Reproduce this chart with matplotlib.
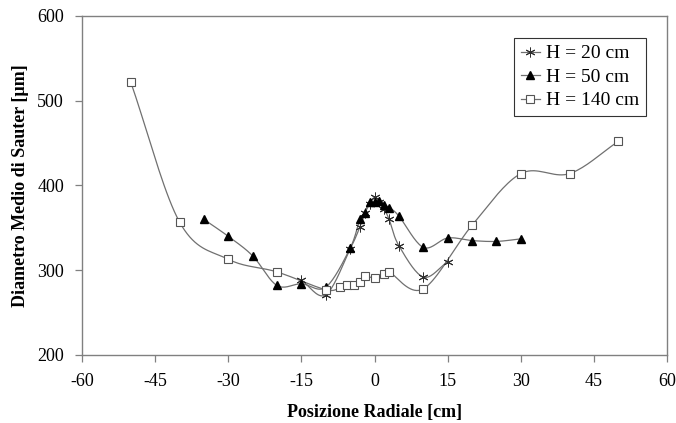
import numpy as np
import matplotlib
matplotlib.use("Agg")
import matplotlib.pyplot as plt

plt.rcParams['font.family'] = ['Liberation Serif', 'DejaVu Serif']
plt.rcParams['axes.unicode_minus'] = False

# H = 20 cm
x_20 = [-15, -10, -5, -3, -2, -1, 0, 1, 2, 3, 5, 10, 15]
d_20 = [288, 271, 325, 351, 367, 378, 386, 381, 372, 360, 329, 292, 310]

# H = 50 cm
x_50 = [-35, -30, -25, -20, -15, -10, -5, -3, -2, -1, 0, 1, 2, 3, 5, 10, 15, 20, 25, 30]
d_50 = [360, 340, 317, 282, 284, 280, 326, 360, 368, 381, 380, 382, 377, 374, 364, 327, 338, 335, 334, 337]

# H = 140 cm
x_140 = [-50, -40, -30, -20, -10, -7, -5.7, -4.3, -3, -2, 0, 2, 3, 10, 20, 30, 40, 50]
d_140 = [522, 357, 313, 298, 277, 280, 282, 282, 286, 293, 291, 295, 298, 278, 353, 414, 414, 452]

labels = ["H = 20 cm", "H = 50 cm", "H = 140 cm"]


def smooth(x, y, n=20):
    """Catmull-Rom curve through the points (like Excel smoothed lines)."""
    x = np.asarray(x, float)
    y = np.asarray(y, float)
    px = np.concatenate([[2 * x[0] - x[1]], x, [2 * x[-1] - x[-2]]])
    py = np.concatenate([[2 * y[0] - y[1]], y, [2 * y[-1] - y[-2]]])
    t = np.linspace(0, 1, n)
    xs, ys = [], []
    for i in range(1, len(px) - 2):
        for p, out in ((px, xs), (py, ys)):
            p0, p1, p2, p3 = p[i - 1], p[i], p[i + 1], p[i + 2]
            out.append(0.5 * (2 * p1 + (-p0 + p2) * t
                              + (2 * p0 - 5 * p1 + 4 * p2 - p3) * t ** 2
                              + (-p0 + 3 * p1 - 3 * p2 + p3) * t ** 3))
    return np.concatenate(xs), np.concatenate(ys)


fig = plt.figure(figsize=(6.76, 4.23), dpi=100)
ax = fig.add_axes([0.1213, 0.1608, 0.8654, 0.8014])

line_col = '#707070'
styles = [
    dict(marker=(6, 2, 0), markersize=7, markerfacecolor='black', markeredgecolor='#303030', markeredgewidth=0.7),
    dict(marker='^', markersize=6, markerfacecolor='black', markeredgecolor='black'),
    dict(marker='s', markersize=5.5, markerfacecolor='white', markeredgecolor='#555555', markeredgewidth=0.8),
]
handles = []
for (x, y), st, lab in zip([(x_20, d_20), (x_50, d_50), (x_140, d_140)], styles, labels):
    sx, sy = smooth(x, y)
    ax.plot(sx, sy, color=line_col, lw=0.9, zorder=2)
    ax.plot(x, y, linestyle='none', zorder=3, **st)
    h, = ax.plot([], [], color=line_col, lw=0.9, **st)
    h.set_label(lab)
    handles.append(h)

ax.set_xlim(-60, 60)
ax.set_ylim(200, 600)
ax.set_xticks(np.arange(-60, 61, 15))
ax.set_yticks(np.arange(200, 601, 100))
ax.tick_params(direction='out', length=5, width=0.9, color='#808080', labelsize=13, pad=8)
for s in ax.spines.values():
    s.set_color('#808080')
    s.set_linewidth(1.0)

ax.set_xlabel("Posizione Radiale [cm]", fontsize=13, fontweight='bold', labelpad=10)
ax.set_ylabel("Diametro Medio di Sauter [\u00b5m]", fontsize=13, fontweight='bold', labelpad=6)

leg = ax.legend(handles=handles, loc='upper right', bbox_to_anchor=(0.964, 0.935),
                fontsize=14, frameon=True, fancybox=False, handlelength=1.0,
                handletextpad=0.3, borderpad=0.35, labelspacing=0.3, borderaxespad=0)
leg.get_frame().set_edgecolor('black')
leg.get_frame().set_linewidth(0.8)

fig.savefig("out.png", dpi=100)
